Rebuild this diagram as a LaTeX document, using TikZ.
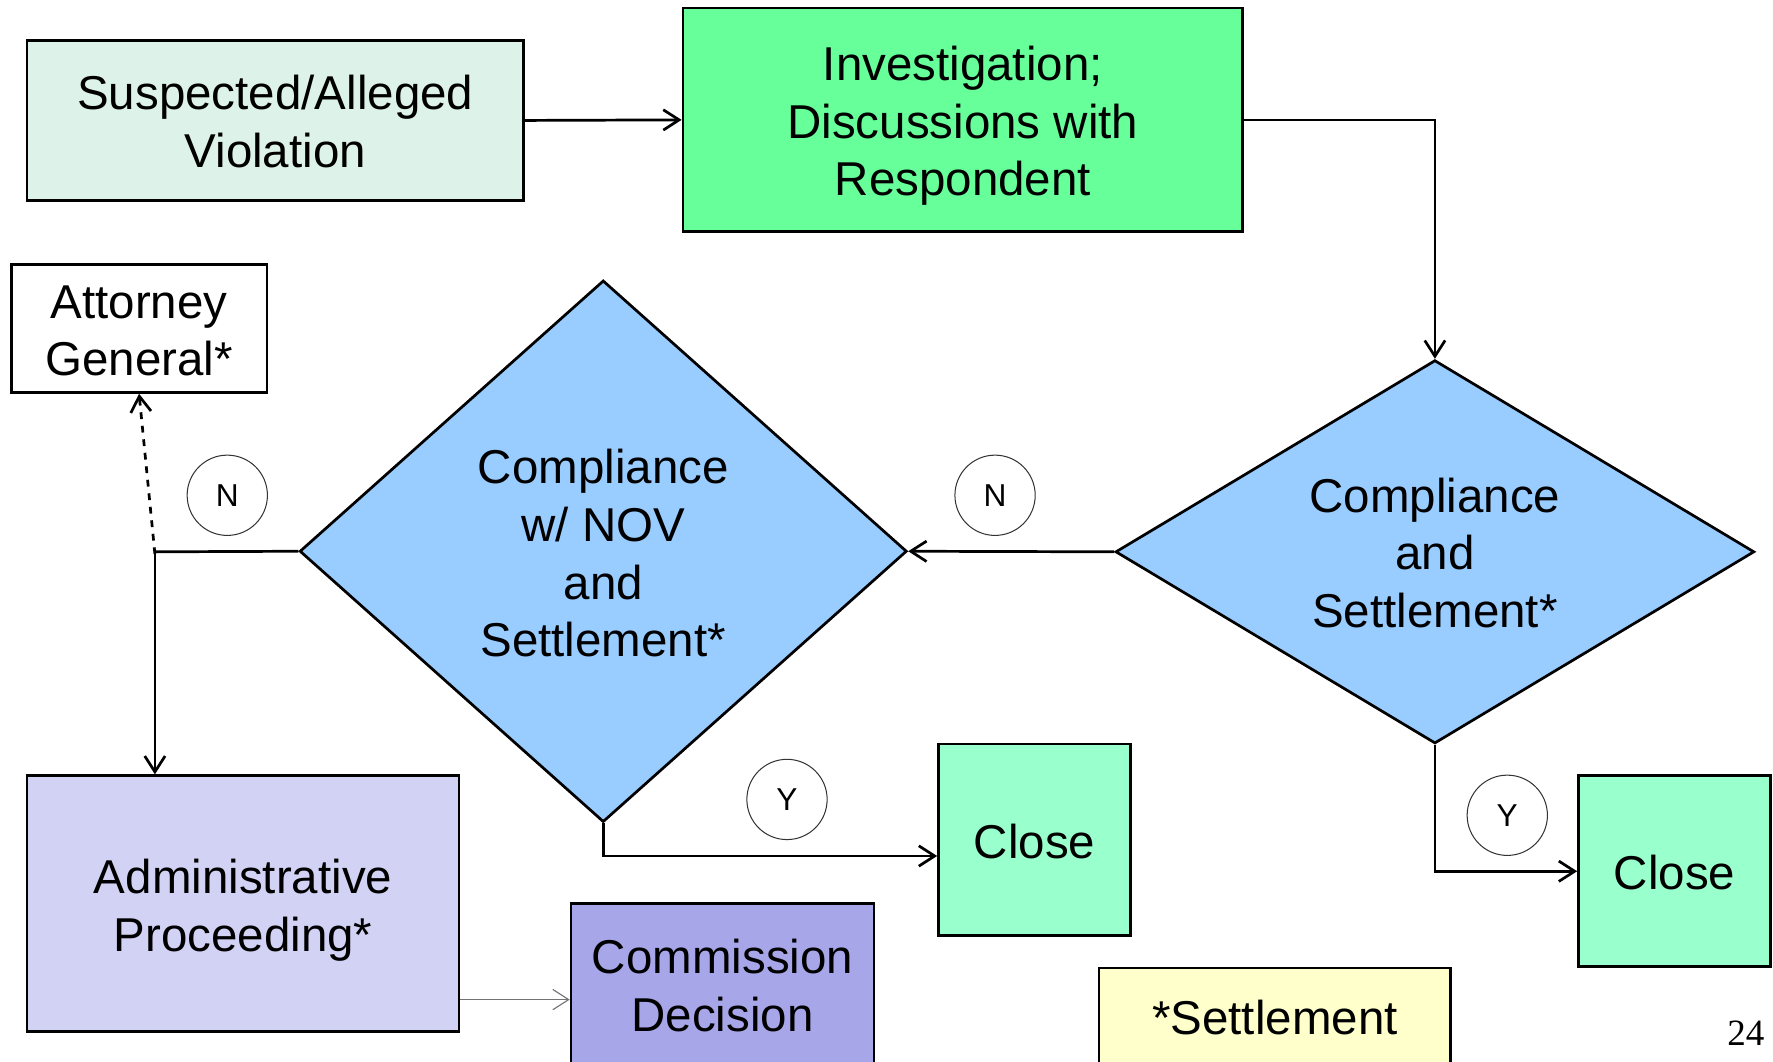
\documentclass[tikz,border=0pt]{standalone}
\usepackage{fontspec}
\setmainfont{Liberation Sans}
\newfontfamily\numfont{Liberation Serif}
\usetikzlibrary{shapes.geometric,arrows.meta}
\definecolor{cviol}{HTML}{DDF2E8}
\definecolor{cinv}{HTML}{66FF99}
\definecolor{cdia}{HTML}{99CCFF}
\definecolor{cadm}{HTML}{D2D2F4}
\definecolor{ccom}{HTML}{A6A6E8}
\definecolor{cclose}{HTML}{99FFCC}
\definecolor{csett}{HTML}{FFFFCC}
\tikzset{
  bigtext/.style={font=\fontsize{21}{25.5}\selectfont, align=center},
  boxnode/.style={draw=black, line width=1.2pt, rectangle, inner sep=0pt, bigtext},
  dianode/.style={draw=black, line width=1.2pt, diamond, inner sep=0pt, fill=cdia, bigtext},
  yn/.style={draw=black!80, line width=0.45pt, circle, minimum size=35.5pt, inner sep=0pt, font=\fontsize{14}{16}\selectfont},
  arr/.style={line width=1.2pt, -{Straight Barb[length=7pt,width=9pt,line width=1.2pt]}},
  thinarr/.style={line width=0.5pt, draw=black!55, -{Straight Barb[length=7pt,width=9pt,line width=0.5pt]}},
  dasharr/.style={line width=1.2pt, dashed, -{Straight Barb[length=7pt,width=9pt,line width=1.2pt]}}
}
\begin{document}
\begin{tikzpicture}[x=0.5pt,y=-0.5pt]
\useasboundingbox (0,0) rectangle (1568,939);
\clip (0,0) rectangle (1568,939);
\fill[white] (0,0) rectangle (1568,939);

\node[boxnode, fill=cviol, minimum width=219.5pt, minimum height=70.5pt, label={[bigtext,yshift=-0.5pt]center:{Suspected/Alleged\\Violation}}] (viol) at (243.5,106.5) {};
\node[boxnode, fill=cinv, minimum width=247.5pt, minimum height=99pt, label={[bigtext,yshift=-2.7pt]center:{Investigation;\\Discussions with\\Respondent}}] (inv) at (851.5,106) {};
\node[boxnode, fill=white, minimum width=113pt, minimum height=56.5pt, label={[bigtext,yshift=-1pt]center:{Attorney\\General*}}] (ag) at (123,290.5) {};
\node[dianode, aspect=1.667, minimum width=282.5pt, minimum height=169.5pt, label={[bigtext,yshift=-0.5pt]center:{Compliance\\and\\Settlement*}}] (cs1) at (1269,488) {};
\node[dianode, aspect=1.12, minimum width=268.5pt, minimum height=239.5pt, label={[bigtext,yshift=-1pt]center:{Compliance\\w/ NOV\\and\\Settlement*}}] (cs2) at (533.5,487.5) {};
\node[boxnode, fill=cadm, minimum width=191pt, minimum height=113pt, label={[bigtext,yshift=-3pt]center:{Administrative\\Proceeding*}}] (adm) at (215,799) {};
\node[boxnode, fill=ccom, minimum width=134pt, minimum height=72.5pt] (com) at (639,871.5) {Commission\\Decision};
\node[boxnode, fill=cclose, minimum width=85pt, minimum height=84.5pt, label={[bigtext,yshift=-1pt]center:Close}] (close1) at (915,742.5) {};
\node[boxnode, fill=cclose, minimum width=85pt, minimum height=84.5pt, label={[bigtext,yshift=-0.5pt]center:Close}] (close2) at (1481,770.5) {};
\node[boxnode, fill=csett, minimum width=155.5pt, minimum height=44pt] (sett) at (1127.5,900) {*Settlement};

\node[yn] (n1) at (201,438) {N};
\node[yn] (n2) at (880,438) {N};
\node[yn] (y1) at (696,707) {Y};
\node[yn] (y2) at (1333,721) {Y};

\node[font=\numfont\fontsize{16.4}{18}\selectfont] (pg) at (1544,914) {24};

\draw[arr] (viol.east) -- (inv.west);
\draw[arr] (inv.east) -| (cs1.north);
\draw[arr] (cs1.west) -- (cs2.east);
\coordinate (j) at (137,488);
\draw[line width=1.2pt] (cs2.west) -- (j);
\draw[arr] (j) -- (j |- adm.north);
\draw[dasharr] ([yshift=-1pt]j) -- (ag.south);
\draw[arr] (cs2.south) |- ([yshift=-7.25pt]close1.west);
\draw[arr] (cs1.south) |- (close2.west);
\draw[thinarr] ([yshift=-42.5pt]adm.east) -- ([yshift=-42.5pt]adm.east -| com.west);
\end{tikzpicture}
\end{document}
